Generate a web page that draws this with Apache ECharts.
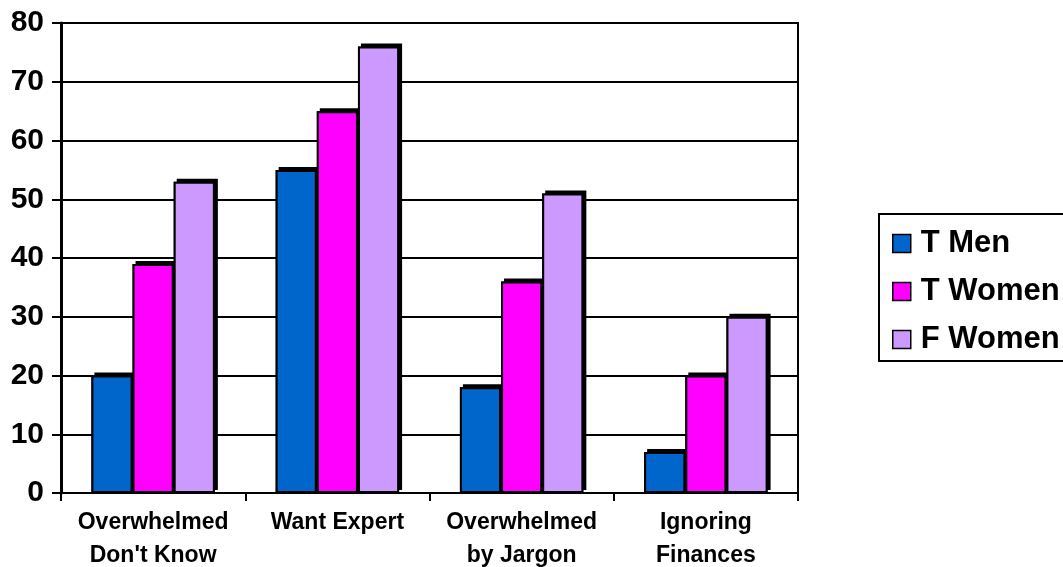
<!DOCTYPE html>
<html>
<head>
<meta charset="utf-8">
<script src="https://cdn.jsdelivr.net/npm/echarts@6/dist/echarts.min.js"></script>
<style>
  html, body { margin: 0; padding: 0; background: #fff; }
  #chart { width: 1063px; height: 567px; }
</style>
</head>
<body>
<div id="chart"></div>
<script>
var categories = ['Overwhelmed\nDon\'t Know', 'Want Expert', 'Overwhelmed\nby Jargon', 'Ignoring\nFinances'];
var seriesNames = ['T Men', 'T Women', 'F Women'];
var tMen = [20, 55, 18, 7];
var tWomen = [39, 65, 36, 20];
var fWomen = [53, 76, 51, 30];

var font = '"Liberation Sans", Arial, sans-serif';
var colors = ['#0066CC', '#FF00FF', '#CC99FF'];
var values = [tMen, tWomen, fWomen];

// main bars with black outline
function barSeries(i) {
    return {
        name: seriesNames[i],
        type: 'bar',
        z: 3,
        barGap: '0%',
        barCategoryGap: '33%',
        itemStyle: {color: colors[i], borderColor: '#000', borderWidth: 2},
        emphasis: {disabled: true},
        data: values[i]
    };
}

// black copy underneath, its shadow gives the 3D top/right edge
function depthSeries(i) {
    return {
        name: 'depth' + i,
        type: 'bar',
        xAxisIndex: 1,
        z: 1,
        barGap: '0%',
        barCategoryGap: '33%',
        itemStyle: {color: '#000', shadowColor: '#000', shadowBlur: 0, shadowOffsetX: 3, shadowOffsetY: -3},
        emphasis: {disabled: true},
        silent: true,
        data: values[i]
    };
}

var myChart = echarts.init(document.getElementById('chart'));
var options = {
    animation: false,
    color: colors,
    textStyle: {fontFamily: font},
    grid: {left: 61, right: 265, top: 23, bottom: 74, containLabel: false, outerBoundsMode: 'none',
        show: true, borderColor: '#000', borderWidth: 2},
    legend: {
        orient: 'vertical',
        left: 879,
        top: 214,
        padding: [14, 40, 6, 13],
        borderColor: '#000',
        borderWidth: 2,
        itemWidth: 18,
        itemHeight: 18,
        itemGap: 17,
        selectedMode: false,
        icon: 'rect',
        itemStyle: {borderColor: '#000', borderWidth: 1.5},
        textStyle: {fontSize: 31, fontWeight: 'bold', color: '#000', fontFamily: font, lineHeight: 30, padding: [0, 0, 0, 5]},
        data: seriesNames
    },
    xAxis: [
        {
            type: 'category',
            data: categories,
            axisLine: {lineStyle: {color: '#000', width: 2}},
            axisTick: {show: true, length: 8, interval: 0, lineStyle: {color: '#000', width: 2}},
            axisLabel: {interval: 0, fontSize: 23, fontWeight: 'bold', color: '#000', lineHeight: 33, margin: 13, fontFamily: font}
        },
        {
            type: 'category',
            data: categories,
            show: false
        }
    ],
    yAxis: {
        type: 'value',
        min: 0,
        max: 80,
        interval: 10,
        axisLine: {show: true, lineStyle: {color: '#000', width: 3}},
        axisTick: {show: true, length: 9, lineStyle: {color: '#000', width: 2}},
        axisLabel: {fontSize: 30, fontWeight: 'bold', color: '#000', margin: 17, fontFamily: font},
        splitLine: {lineStyle: {color: '#000', width: 2}}
    },
    series: [
        depthSeries(0), depthSeries(1), depthSeries(2),
        barSeries(0), barSeries(1), barSeries(2)
    ]
};
myChart.setOption(options, true);
</script>
</body>
</html>
